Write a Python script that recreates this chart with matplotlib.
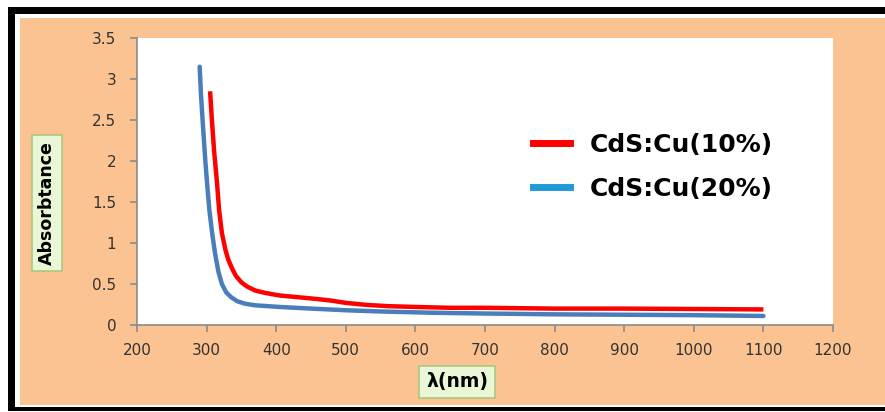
import matplotlib
matplotlib.use("Agg")
import matplotlib.pyplot as plt
from matplotlib.patches import Rectangle
from matplotlib.lines import Line2D

# Absorbance spectra of Cu-doped CdS films
wl_10 = [305, 308, 311, 315, 318, 322, 327, 331, 336, 342, 350, 358, 370, 385,
         405, 430, 455, 477, 500, 530, 560, 600, 650, 700, 800, 900, 1000, 1100]
abs_10 = [2.85, 2.45, 2.10, 1.73, 1.40, 1.12, 0.92, 0.80, 0.70, 0.60, 0.52, 0.47,
          0.42, 0.39, 0.36, 0.34, 0.32, 0.30, 0.27, 0.245, 0.23, 0.22, 0.21, 0.21,
          0.20, 0.20, 0.195, 0.19]

wl_20 = [290, 292, 295, 298, 301, 304, 308, 312, 317, 322, 328, 335, 344, 355, 370,
         405, 450, 500, 550, 621, 700, 800, 900, 1000, 1100]
abs_20 = [3.15, 2.80, 2.40, 2.02, 1.70, 1.40, 1.12, 0.88, 0.65, 0.50, 0.40, 0.34,
          0.29, 0.26, 0.24, 0.22, 0.20, 0.18, 0.165, 0.15, 0.14, 0.13, 0.125, 0.12, 0.11]

series_labels = ["CdS:Cu(10%)", "CdS:Cu(20%)"]
x_ticks = list(range(200, 1201, 100))
y_ticks = [0, 0.5, 1, 1.5, 2, 2.5, 3, 3.5]
y_tick_labels = ["0", "0.5", "1", "1.5", "2", "2.5", "3", "3.5"]

W, H = 885, 412
fig = plt.figure(figsize=(W / 100, H / 100), dpi=100, facecolor="white")


def px_rect(x0, y0, x1, y1, **kw):
    """Rectangle given in pixel coordinates measured from the top-left corner."""
    r = Rectangle((x0 / W, 1 - y1 / H), (x1 - x0) / W, (y1 - y0) / H,
                  transform=fig.transFigure, **kw)
    fig.add_artist(r)
    return r


# frame and peach chart area
px_rect(20, 18, 885, 405, facecolor="#FAC391", edgecolor="none", zorder=0)
px_rect(8, 7, 885, 14, facecolor="black", edgecolor="none", zorder=0)
px_rect(8, 7, 15, 411, facecolor="black", edgecolor="none", zorder=0)
px_rect(8, 407, 885, 411, facecolor="black", edgecolor="none", zorder=0)

ax = fig.add_axes([137 / W, 1 - 325 / H, (833 - 137) / W, (325 - 38) / H])
ax.set_facecolor("white")

red = "#FF0000"
blue = "#4A7EBB"
ax.plot(wl_10, abs_10, color=red, lw=3.2, solid_capstyle="butt", zorder=3)
ax.plot(wl_20, abs_20, color=blue, lw=3.2, solid_capstyle="round", zorder=2)

ax.set_xlim(200, 1200)
ax.set_ylim(0, 3.5)
ax.set_xticks(x_ticks)
ax.set_yticks(y_ticks)
ax.set_yticklabels(y_tick_labels)

for side in ("top", "right"):
    ax.spines[side].set_visible(False)
for side in ("left", "bottom"):
    ax.spines[side].set_color("#8A8A8A")
    ax.spines[side].set_linewidth(1.2)

ax.tick_params(axis="both", direction="out", length=5, width=1.2,
               color="#8A8A8A", labelcolor="#333333", labelsize=11)
ax.tick_params(axis="y", pad=10)
ax.tick_params(axis="x", pad=8)

# legend
handles = [Line2D([], [], color="#FF0000", lw=5),
           Line2D([], [], color="#1E9AD8", lw=5)]
lx = (523 - 137) / (833 - 137)
ly = 1 - (123 - 38) / (325 - 38)
ax.legend(handles, series_labels, loc="upper left", bbox_to_anchor=(lx, ly),
          frameon=False, prop={"family": "DejaVu Sans", "weight": "bold", "size": 18},
          handlelength=1.48, handletextpad=0.8, labelspacing=0.8, borderaxespad=0)

# axis titles in green boxes
box = dict(boxstyle="square,pad=0.35", facecolor="#EAF7D6", edgecolor="#A9C97E", lw=1.2)
fig.text(47 / W, 1 - 203 / H, "Absorbtance", rotation=90, ha="center", va="center",
         fontsize=12.5, fontweight="bold", color="black", bbox=box)
fig.text(457 / W, 1 - 382 / H, "λ(nm)", ha="center", va="center",
         fontsize=13.5, fontweight="bold", color="black", bbox=box)

fig.savefig("out.png", dpi=100, facecolor="white")
